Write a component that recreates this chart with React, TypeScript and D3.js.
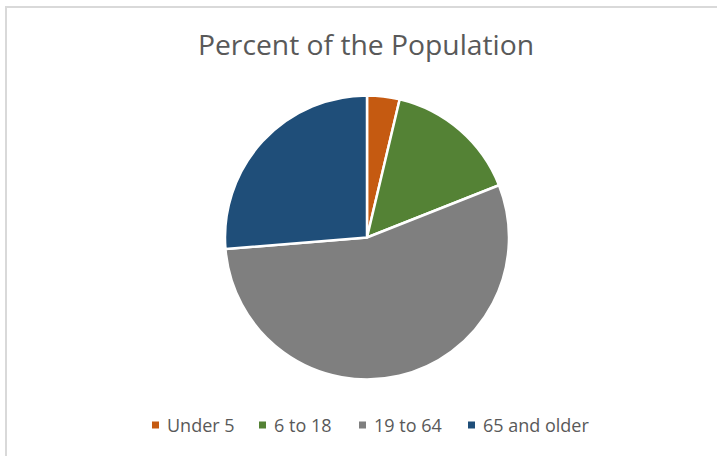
import React from "react";
import * as d3 from "d3";

const categories = ["Under 5", "6 to 18", "19 to 64", "65 and older"];
const values = [3.7, 15.3, 54.7, 26.3];
const colors = ["#C55A11", "#548235", "#7F7F7F", "#1F4E79"];
const title = "Percent of the Population";

const W = 717;
const H = 456;
const cx = 367;
const cy = 237.5;
const R = 142;
const legendX = [152, 259, 359, 468];
const legendY = 425;

export default function App() {
  const pie = d3.pie<number>().sort(null).value((d) => d)(values);
  const arc = d3.arc<d3.PieArcDatum<number>>().innerRadius(0).outerRadius(R);
  return (
    <svg
      width={W}
      height={H}
      style={{ position: "absolute", left: 0, top: 0, background: "#fff" }}
      fontFamily="'Open Sans', 'Liberation Sans', sans-serif"
    >
      <rect x={6} y={7} width={W + 10} height={H + 10} fill="#fff" stroke="#D9D9D9" strokeWidth={2} />
      <text x={366} y={55} textAnchor="middle" fontSize={27} fill="#595959" textLength={336} lengthAdjust="spacingAndGlyphs">
        {title}
      </text>
      <g transform={`translate(${cx},${cy})`}>
        {pie.map((p, i) => (
          <path key={categories[i]} d={arc(p) || ""} fill={colors[i]} stroke="#fff" strokeWidth={2.5} strokeLinejoin="round" />
        ))}
      </g>
      <g>
        {categories.map((c, i) => (
          <g key={c} transform={`translate(${legendX[i]},${legendY})`}>
            <rect x={0} y={-3.5} width={7} height={7} fill={colors[i]} />
            <text x={15} y={6.5} fontSize={18} fill="#595959">
              {c}
            </text>
          </g>
        ))}
      </g>
    </svg>
  );
}
